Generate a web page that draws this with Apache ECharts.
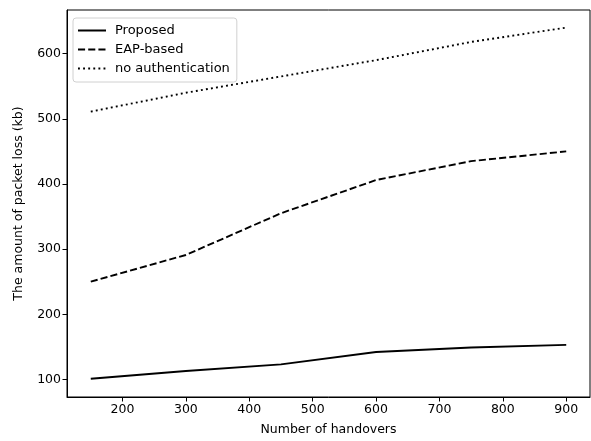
<!DOCTYPE html>
<html>
<head>
<meta charset="utf-8">
<script src="https://cdn.jsdelivr.net/npm/echarts@6/dist/echarts.min.js"></script>
<style>
  html, body { margin: 0; padding: 0; background: #fff; }
  #chart { width: 591px; height: 441px; }
</style>
</head>
<body>
<div id="chart"></div>
<script>
// handovers on the x axis
var handovers = [150, 300, 450, 600, 750, 900];
var proposed = [101, 113, 123, 142, 149, 153];
var eapBased = [250, 291, 355, 406, 435, 450];
var noAuth = [511, 540, 565, 590, 618, 640];
var xTicks = [200, 300, 400, 500, 600, 700, 800, 900];
var yTicks = [100, 200, 300, 400, 500, 600];

function pairs(ys) {
    var res = [];
    for (var i = 0; i < handovers.length; i++) {
        res.push([handovers[i], ys[i]]);
    }
    return res;
}

var font = 'DejaVu Sans';
var chart = echarts.init(document.getElementById('chart'));

function lineSeries(name, ys, type) {
    return {
        name: name,
        type: 'line',
        symbol: 'none',
        data: pairs(ys),
        lineStyle: { color: '#000', width: 1.9, type: type, cap: 'butt' },
        itemStyle: { color: '#000' },
        emphasis: { disabled: true }
    };
}

chart.setOption({
    animation: false,
    grid: {
        left: 67, right: 1, top: 10, bottom: 39,
        show: true, borderColor: '#000', borderWidth: 1
    },
    legend: {
        left: 73, top: 18,
        orient: 'vertical',
        itemWidth: 28, itemHeight: 14, itemGap: 6,
        padding: [6, 7, 7, 4],
        borderColor: '#d0d0d0', borderWidth: 1, borderRadius: 3,
        backgroundColor: 'rgba(255,255,255,0.8)',
        itemStyle: { opacity: 0 },
        textStyle: { fontFamily: font, fontSize: 13, color: '#000', padding: [0, 0, 0, 4] },
        data: ['Proposed', 'EAP-based', 'no authentication']
    },
    xAxis: {
        type: 'value',
        min: 112.5, max: 937.5,
        name: 'Number of handovers',
        nameLocation: 'middle',
        nameGap: 26,
        nameTextStyle: { fontFamily: font, fontSize: 12.5, color: '#000' },
        axisLine: { show: true, lineStyle: { color: '#000' } },
        axisTick: { show: true, customValues: xTicks, length: 4.5, lineStyle: { color: '#000' } },
        axisLabel: { customValues: xTicks, fontFamily: font, fontSize: 12.5, color: '#000', margin: 6 },
        splitLine: { show: false }
    },
    yAxis: {
        type: 'value',
        min: 73, max: 667,
        name: 'The amount of packet loss (kb)',
        nameLocation: 'middle',
        nameRotate: 90,
        nameGap: 42,
        nameTextStyle: { fontFamily: font, fontSize: 12.5, color: '#000' },
        axisLine: { show: true, lineStyle: { color: '#000' } },
        axisTick: { show: true, customValues: yTicks, length: 4.5, lineStyle: { color: '#000' } },
        axisLabel: { customValues: yTicks, fontFamily: font, fontSize: 12.5, color: '#000', margin: 6 },
        splitLine: { show: false }
    },
    series: [
        lineSeries('Proposed', proposed, 'solid'),
        lineSeries('EAP-based', eapBased, [7.1, 3.1]),
        lineSeries('no authentication', noAuth, [1.9, 3.2])
    ]
});
</script>
</body>
</html>
